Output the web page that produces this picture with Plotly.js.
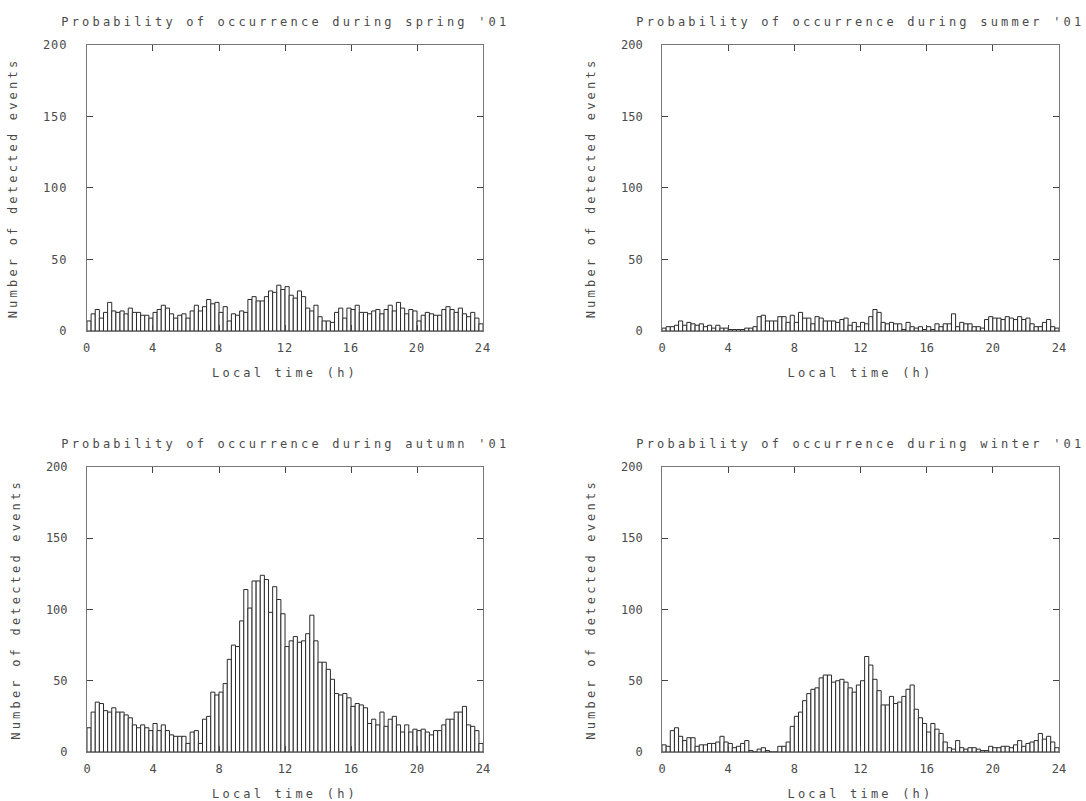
<!DOCTYPE html>
<html>
<head>
<meta charset="utf-8">
<script src="https://cdn.plot.ly/plotly-3.0.1.min.js"></script>
<style>
	html, body { margin: 0; padding: 0; background: #fff; }
	#chart { width: 1086px; height: 801px; }
	/* the original uses a wide vector font: spread the text out */
	.infolayer text { letter-spacing: 3.2px; }
	.xtick text, .ytick text { letter-spacing: 1px; }
</style>
</head>
<body>
<div id="chart"></div>
<script>
// number of detected events per 15 min bin of local time (96 bins, 0h..24h)
var binStart = 0.125; // centre of first bin (h)
var binWidth = 0.25;  // 15 minutes

var springCounts = [7,12,15,9,13,20,14,13,14,12,16,13,13,11,11,9,13,15,18,16,
	12,9,11,12,9,14,18,14,17,22,19,20,13,17,7,12,11,14,13,22,
	24,21,21,24,28,27,32,29,31,25,23,28,24,16,14,18,10,7,7,6,
	13,16,9,16,15,18,13,13,12,14,15,12,15,18,14,20,16,12,15,14,
	7,11,13,12,11,11,15,17,15,13,16,12,10,13,9,5];

var summerCounts = [2,3,3,4,7,4,6,5,4,5,3,4,2,4,2,2,1,1,1,1,
	2,2,3,10,11,7,7,7,10,10,6,11,6,13,9,9,5,10,9,7,
	7,7,6,8,9,4,6,3,6,5,10,15,13,6,5,6,5,5,1,6,
	3,2,3,1,3,1,5,3,5,5,12,3,6,5,5,3,3,2,8,10,
	9,9,8,10,9,8,10,8,9,5,3,3,6,8,3,2];

var autumnCounts = [17,28,35,34,29,28,31,28,28,26,24,19,17,19,17,15,20,15,19,15,
	12,11,11,11,6,14,15,6,23,25,42,40,42,48,65,75,74,92,114,101,
	120,120,124,121,98,116,107,97,74,78,81,77,78,83,96,78,63,63,58,51,
	41,40,41,38,32,34,33,31,20,23,19,28,18,23,25,19,14,19,14,16,
	15,16,14,12,15,15,19,23,23,28,28,32,19,18,15,6];

var winterCounts = [5,4,15,17,11,8,10,10,4,5,5,6,6,7,11,7,6,3,4,6,
	8,1,0,2,3,1,0,0,4,4,7,18,25,28,36,41,44,45,52,54,
	54,49,50,51,49,45,42,47,50,67,61,51,43,33,33,39,34,35,39,44,
	47,30,24,20,14,20,16,13,7,3,2,8,3,2,3,3,2,1,1,4,
	3,3,4,4,3,5,8,4,6,7,8,13,9,11,7,3];

var seasonNames = ['spring', 'summer', 'autumn', 'winter'];
var seasonCounts = [springCounts, summerCounts, autumnCounts, winterCounts];
var yearLabel = "'01";

var xTickVals = [0, 4, 8, 12, 16, 20, 24];
var yTickVals = [0, 50, 100, 150, 200];

var textFont = {family: 'DejaVu Sans Mono, monospace', size: 12, color: '#4a4a4a'};

// subplot boxes in paper coordinates (left col, right col / top row, bottom row)
var colDomains = [[0.0801, 0.4448], [0.6096, 0.9751]];
var rowDomains = [[0.5868, 0.9438], [0.0612, 0.4170]];

var data = [];
var annotations = [];
var layout = {
	width: 1086,
	height: 801,
	margin: {l: 0, r: 0, t: 0, b: 0},
	paper_bgcolor: '#fff',
	plot_bgcolor: '#fff',
	showlegend: false,
	bargap: 0,
	font: textFont
};

for (var i = 0; i < seasonNames.length; i++) {
	var n = i + 1;
	var xName = n == 1 ? 'xaxis' : 'xaxis' + n;
	var yName = n == 1 ? 'yaxis' : 'yaxis' + n;
	var xRef = n == 1 ? 'x' : 'x' + n;
	var yRef = n == 1 ? 'y' : 'y' + n;
	var col = i % 2;
	var row = Math.floor(i / 2);

	data.push({
		type: 'bar',
		x0: binStart,
		dx: binWidth,
		y: seasonCounts[i],
		width: binWidth,
		xaxis: xRef,
		yaxis: yRef,
		marker: {color: '#fff', line: {color: '#2a2a2a', width: 1}},
		hoverinfo: 'x+y'
	});

	layout[xName] = {
		domain: colDomains[col],
		anchor: yRef,
		range: [0, 24],
		tickvals: xTickVals,
		ticktext: xTickVals.map(String),
		ticks: 'inside',
		ticklen: 6,
		tickcolor: '#444',
		ticklabelstandoff: 6,
		showline: true,
		linecolor: '#777',
		linewidth: 1,
		mirror: 'ticks',
		showgrid: false,
		zeroline: false,
		tickfont: textFont,
		title: {text: 'Local time (h)', font: textFont, standoff: 14}
	};
	layout[yName] = {
		domain: rowDomains[row],
		anchor: xRef,
		range: [0, 200],
		tickvals: yTickVals,
		ticktext: yTickVals.map(String),
		ticks: 'inside',
		ticklen: 6,
		tickcolor: '#444',
		ticklabelstandoff: 16,
		showline: true,
		linecolor: '#777',
		linewidth: 1,
		mirror: 'ticks',
		showgrid: false,
		zeroline: false,
		tickfont: textFont,
		title: {text: 'Number of detected events', font: textFont, standoff: 22}
	};

	// per-panel heading, plotly has no subplot titles
	annotations.push({
		xref: 'paper',
		yref: 'paper',
		x: (colDomains[col][0] + colDomains[col][1]) / 2,
		y: rowDomains[row][1],
		yshift: 14,
		xanchor: 'center',
		yanchor: 'bottom',
		showarrow: false,
		text: 'Probability of occurrence during ' + seasonNames[i] + ' ' + yearLabel,
		font: textFont
	});
}
layout.annotations = annotations;

Plotly.newPlot('chart', data, layout, {staticPlot: true});
</script>
</body>
</html>
